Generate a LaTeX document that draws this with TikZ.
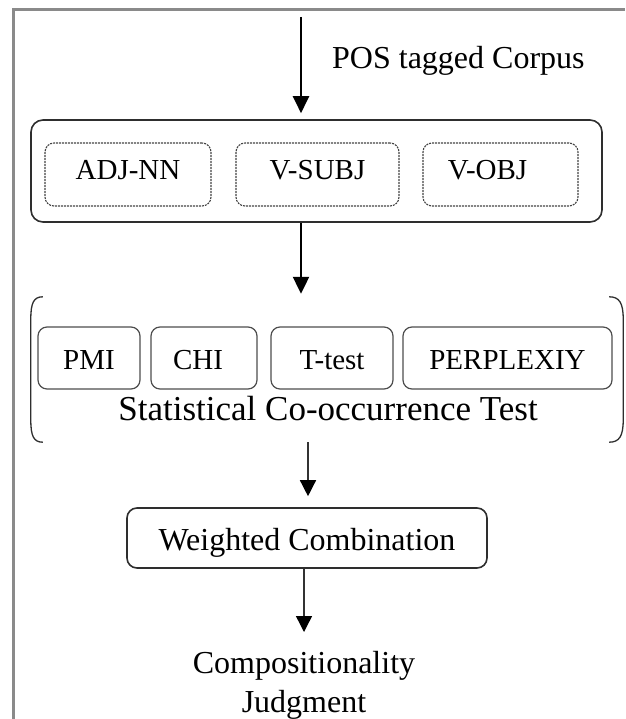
\documentclass[tikz,border=0pt]{standalone}
\usepackage{fontspec}
\setmainfont{Liberation Serif}
\usetikzlibrary{arrows.meta}
\definecolor{framegray}{HTML}{8A8A8A}
\definecolor{boxdark}{HTML}{2E2E2E}
\definecolor{dashgray}{HTML}{444444}
\tikzset{
  lbl/.style={inner sep=0pt},
  outerbox/.style={draw=boxdark, line width=1.6pt, rounded corners=12pt, minimum width=571pt, minimum height=102pt, inner sep=0pt},
  dashbox/.style={draw=dashgray, line width=1.1pt, dash pattern=on 2pt off 1pt, rounded corners=9pt, minimum height=63pt, inner sep=0pt, text height=20pt, text depth=9pt, font=\fontsize{29}{35}\selectfont},
  statbox/.style={draw=boxdark!85, line width=1.2pt, rounded corners=9pt, minimum height=62pt, inner sep=0pt, text height=22pt, text depth=0pt, font=\fontsize{29}{35}\selectfont},
  wbox/.style={draw=boxdark, line width=1.6pt, rounded corners=10pt, minimum width=360pt, minimum height=60pt, inner sep=0pt, text height=24pt, text depth=0pt, font=\fontsize{32}{38}\selectfont},
  paren/.style={draw=boxdark, line width=1.3pt},
  flow/.style={-{Triangle[width=16pt,length=17pt]}, line width=2.2pt},
  flowthin/.style={-{Triangle[width=16pt,length=16pt,color=black]}, line width=1.4pt, draw=black!80},
}
\begin{document}
\begin{tikzpicture}[x=1pt,y=-1pt]
\useasboundingbox (0,0) rectangle (625,719);
% outer frame
\coordinate (fb) at (13,719);
\coordinate (ftl) at (13,10);
\coordinate (ftr) at (625,10);
\draw[framegray, line width=3pt] (fb) -- (ftl) -- (ftr);

% input
\coordinate (start) at (301,17);
\node[lbl, anchor=base west, font=\fontsize{32}{38}\selectfont] (pos) at (332,69) {POS tagged Corpus};

% extraction group
\node[outerbox] (group1) at (316.5,171) {};
\node[dashbox, minimum width=166pt] (adjnn) at (128,174.5) {ADJ-NN};
\node[dashbox, minimum width=163pt] (vsubj) at (317.5,174.5) {V-SUBJ};
\node[dashbox, minimum width=155pt] (vobj) at (500.5,174.5) {V-OBJ\kern26pt};

\draw[flow, shorten >=6pt] (start) -- (start |- group1.north);

% statistical tests group
\node[inner sep=0pt, minimum width=592pt, minimum height=145pt] (stats) at (327,369.5) {};
\draw[paren] ([xshift=12pt]stats.north west)
  .. controls ([xshift=3pt]stats.north west) and ([yshift=-6pt]stats.north west) .. ([yshift=-22pt]stats.north west)
  -- ([yshift=22pt]stats.south west)
  .. controls ([yshift=6pt]stats.south west) and ([xshift=3pt]stats.south west) .. ([xshift=12pt]stats.south west);
\draw[paren] ([xshift=-14pt]stats.north east)
  .. controls ([xshift=-4pt]stats.north east) and ([yshift=-6pt]stats.north east) .. ([yshift=-22pt]stats.north east)
  -- ([yshift=22pt]stats.south east)
  .. controls ([yshift=6pt]stats.south east) and ([xshift=-4pt]stats.south east) .. ([xshift=-14pt]stats.south east);

\node[statbox, minimum width=102pt] (pmi) at (89,358) {PMI};
\node[statbox, minimum width=106pt] (chi) at (204,358) {CHI\kern12pt};
\node[statbox, minimum width=122pt] (ttest) at (332,358) {T-test};
\node[statbox, minimum width=209pt] (perp) at (507.5,358) {PERPLEXIY};
\node[lbl, anchor=base, font=\fontsize{35}{40}\selectfont] (stlabel) at (328,420) {Statistical Co-occurrence Test};

\draw[flow, shorten >=3pt] (group1.south -| start) -- (stats.north -| start);

% combination
\node[wbox] (wc) at (307,538) {Weighted Combination};
\coordinate (a3) at (308,442);
\draw[flowthin, shorten >=11pt] (stats.south -| a3) -- (wc.north -| a3);

% output
\node[lbl, anchor=north, align=center, font=\fontsize{32}{39}\selectfont] (comp) at (304,651) {Compositionality\\Judgment};
\coordinate (a4) at (304,568);
\draw[flowthin, shorten >=19pt] (wc.south -| a4) -- (comp.north -| a4);
\end{tikzpicture}
\end{document}
